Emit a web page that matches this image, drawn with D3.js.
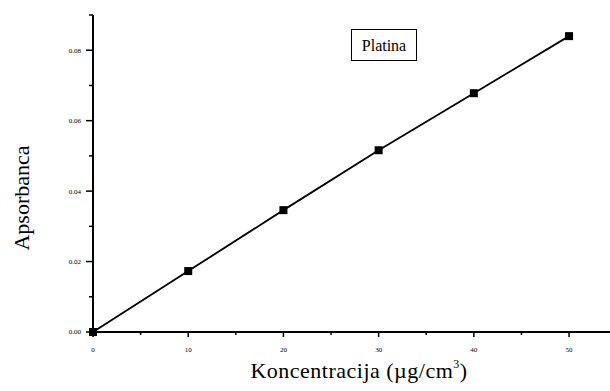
<!DOCTYPE html>
<html>
<head>
<meta charset="utf-8">
<script src="https://cdn.jsdelivr.net/npm/d3@7"></script>
<style>
  body { margin: 0; background: #fff; }
  text { font-family: "Liberation Serif", "Times New Roman", serif; fill: #000; }
</style>
</head>
<body>
<div id="chart"></div>
<script>
// koncentracija (ug/cm3) i apsorbanca
var conc = [0, 10, 20, 30, 40, 50];
var absorb = [0.0, 0.0173, 0.0346, 0.0516, 0.0678, 0.0840];
var xTicks = [0, 10, 20, 30, 40, 50];
var yTicks = [0.00, 0.02, 0.04, 0.06, 0.08];

var width = 610, height = 391;
var svg = d3.select("#chart").append("svg")
    .attr("width", width)
    .attr("height", height);

var x = d3.scaleLinear().domain([0, 54.3]).range([93, 610]);
var y = d3.scaleLinear().domain([0, 0.09]).range([332, 15]);

// y osa
var yAxis = svg.append("g").attr("transform", "translate(93,0)");
yAxis.append("line").attr("x1", 0).attr("x2", 0).attr("y1", y(0)).attr("y2", y(0.09))
    .attr("stroke", "#000").attr("stroke-width", 2);
yAxis.selectAll(".minor").data(d3.range(0.01, 0.095, 0.02)).enter().append("line")
    .attr("x1", -4).attr("x2", 0).attr("y1", d => y(d)).attr("y2", d => y(d))
    .attr("stroke", "#000").attr("stroke-width", 1.5);
yAxis.selectAll(".major").data(yTicks).enter().append("line")
    .attr("x1", -7).attr("x2", 0).attr("y1", d => y(d)).attr("y2", d => y(d))
    .attr("stroke", "#000").attr("stroke-width", 1.5);
yAxis.selectAll("text").data(yTicks).enter().append("text")
    .attr("x", -12).attr("y", d => y(d)).attr("dy", "0.35em")
    .attr("text-anchor", "end").attr("font-size", 7)
    .text(d => d.toFixed(2));

// x osa
var xAxis = svg.append("g").attr("transform", "translate(0,332)");
xAxis.append("line").attr("x1", x(0)).attr("x2", 610).attr("y1", 0).attr("y2", 0)
    .attr("stroke", "#000").attr("stroke-width", 2);
xAxis.selectAll(".minor").data(d3.range(5, 55, 10)).enter().append("line")
    .attr("x1", d => x(d)).attr("x2", d => x(d)).attr("y1", 0).attr("y2", 3)
    .attr("stroke", "#000").attr("stroke-width", 1.5);
xAxis.selectAll(".major").data(xTicks).enter().append("line")
    .attr("x1", d => x(d)).attr("x2", d => x(d)).attr("y1", 0).attr("y2", 5)
    .attr("stroke", "#000").attr("stroke-width", 1.5);
xAxis.selectAll("text").data(xTicks).enter().append("text")
    .attr("x", d => x(d)).attr("y", 20)
    .attr("text-anchor", "middle").attr("font-size", 7)
    .text(d => d);

// linija i tacke
var line = d3.line()
    .x(function (d, i) { return x(conc[i]); })
    .y(function (d) { return y(d); });

svg.append("path").datum(absorb)
    .attr("d", line)
    .attr("fill", "none").attr("stroke", "#000").attr("stroke-width", 1.8);

svg.selectAll(".pt").data(absorb).enter().append("rect")
    .attr("x", (d, i) => x(conc[i]) - 4).attr("y", d => y(d) - 4)
    .attr("width", 8).attr("height", 8).attr("fill", "#000");

// legenda
svg.append("rect").attr("x", 351.5).attr("y", 29.5).attr("width", 65).attr("height", 31)
    .attr("fill", "#fff").attr("stroke", "#000").attr("stroke-width", 1);
svg.append("text").attr("x", 384).attr("y", 51).attr("text-anchor", "middle")
    .attr("font-size", 16).text("Platina");

// naslovi osa
svg.append("text")
    .attr("transform", "translate(29,198) rotate(-90)")
    .attr("text-anchor", "middle").attr("font-size", 22)
    .text("Apsorbanca");

var xl = svg.append("text").attr("x", 359).attr("y", 378)
    .attr("text-anchor", "middle").attr("font-size", 22)
    .attr("letter-spacing", 0.5);
xl.append("tspan").text("Koncentracija (\u00b5g/cm");
xl.append("tspan").attr("dy", -10).attr("font-size", 12).text("3");
xl.append("tspan").attr("dy", 10).text(")");
</script>
</body>
</html>
